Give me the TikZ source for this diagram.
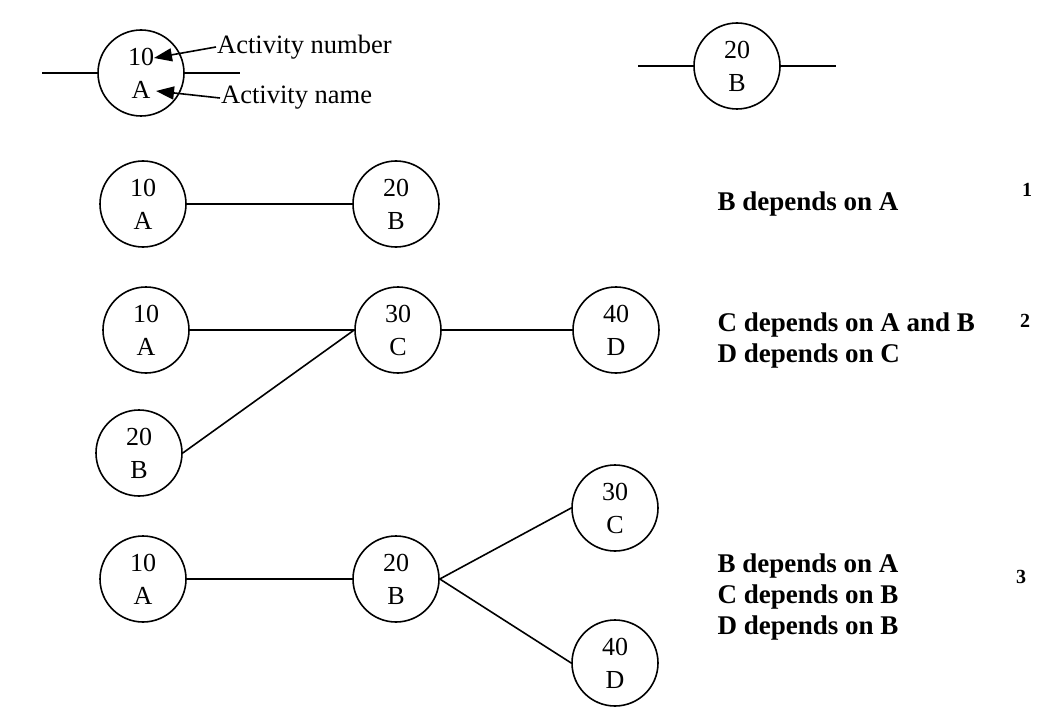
\documentclass[tikz,border=0pt]{standalone}
\usepackage{fontspec}
\setmainfont{Liberation Serif}
\usetikzlibrary{arrows.meta}

\tikzset{
  act/.style={draw,circle,line width=1.6pt,minimum size=86pt,inner sep=0pt,
    align=center,font=\fontsize{26}{33}\selectfont},
  dep/.style={anchor=west,align=left,font=\fontsize{27}{31}\selectfont\bfseries},
  num/.style={font=\fontsize{20}{22}\selectfont\bfseries},
  lbl/.style={anchor=west,font=\fontsize{26.5}{30}\selectfont,inner sep=1pt},
  link/.style={line width=1.6pt}
}

\begin{document}
\begin{tikzpicture}[x=1pt,y=-1pt]
    \useasboundingbox (0,0) rectangle (1059,727);

    % legend
    \node[act] (la) at (141,73) {10\\A};
    \coordinate (la0) at (42,73);
    \coordinate (la1) at (240,73);
    \draw[link] (la0) -- (la.west);
    \draw[link] (la.east) -- (la1);
    \node[lbl] (an) at (216,47) {Activity number};
    \node[lbl] (am) at (220,98) {Activity name};
    \coordinate (anum) at (154,58);
    \coordinate (anam) at (156,91);
    \draw[link,-{Triangle[length=18pt,width=13pt]}] (an.west) -- (anum);
    \draw[link,-{Triangle[length=18pt,width=13pt]}] (am.west) -- (anam);

    \node[act] (lb) at (737,66) {20\\B};
    \coordinate (lb0) at (638,66);
    \coordinate (lb1) at (836,66);
    \draw[link] (lb0) -- (lb.west);
    \draw[link] (lb.east) -- (lb1);

    % 1
    \node[act] (a1) at (143,204) {10\\A};
    \node[act] (b1) at (396,204) {20\\B};
    \draw[link] (a1) -- (b1);
    \node[dep] (t1) at (714,204) {B depends on A};
    \node[num] (n1) at (1027,190) {1};

    % 2
    \node[act] (a2) at (146,330) {10\\A};
    \node[act] (c2) at (398,330) {30\\C};
    \node[act] (d2) at (616,330) {40\\D};
    \node[act] (b2) at (139,453) {20\\B};
    \draw[link] (a2) -- (c2);
    \draw[link] (c2) -- (d2);
    \draw[link] (b2.east) -- (c2.west);
    \node[dep] (t2) at (714,341) {C depends on A and B\\D depends on C};
    \node[num] (n2) at (1025,321) {2};

    % 3
    \node[act] (a3) at (143,579) {10\\A};
    \node[act] (b3) at (396,579) {20\\B};
    \node[act] (c3) at (615,508) {30\\C};
    \node[act] (d3) at (615,663) {40\\D};
    \draw[link] (a3) -- (b3);
    \draw[link] (b3.east) -- (c3.west);
    \draw[link] (b3.east) -- (d3.west);
    \node[dep] (t3) at (714,597) {B depends on A\\C depends on B\\D depends on B};
    \node[num] (n3) at (1021,577) {3};
\end{tikzpicture}
\end{document}
